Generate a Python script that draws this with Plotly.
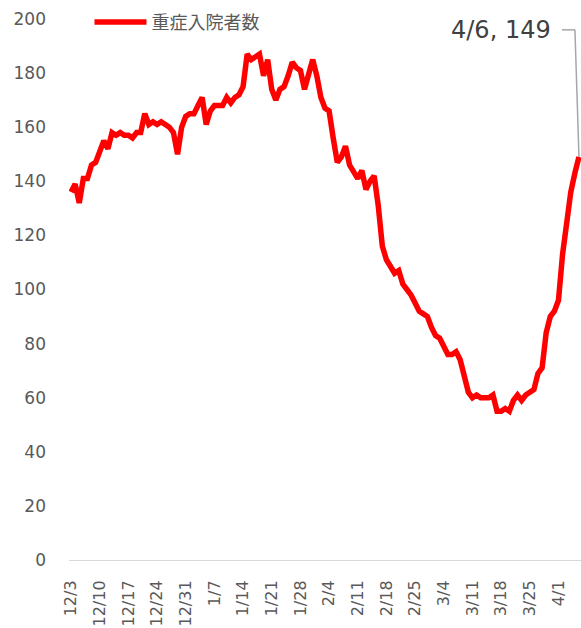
import plotly.graph_objects as go
import pandas as pd

# Categories: daily dates 12/3 .. 4/6
dates = pd.date_range("2020-12-03", "2021-04-06", freq="D")
categories = [f"{d.month}/{d.day}" for d in dates]

series_name = "重症入院者数"
severe = [
    136, 139, 132, 141, 141, 146, 147, 151, 155, 152,   # 12/3 - 12/12
    158, 157, 158, 157, 157, 156, 158, 158, 165, 161,   # 12/13 - 12/22
    162, 161, 162, 161, 160, 158, 150, 160, 164, 165,   # 12/23 - 1/1
    165, 168, 171, 161, 166, 168, 168, 168, 171, 169,   # 1/2 - 1/11
    171, 172, 175, 187, 185, 186, 187, 179, 185, 174,   # 1/12 - 1/21
    170, 174, 175, 179, 184, 182, 181, 174, 180, 185,   # 1/22 - 1/31
    179, 171, 167, 166, 156, 147, 149, 153, 146, 143,   # 2/1 - 2/10
    141, 144, 137, 140, 142, 131, 116, 111, 108, 106,   # 2/11 - 2/20
    107, 102, 100, 98, 95, 92, 91, 90, 86, 83,          # 2/21 - 3/2
    82, 79, 76, 76, 77, 74, 68, 62, 60, 61,             # 3/3 - 3/12
    60, 60, 60, 61, 55, 55, 56, 55, 59, 61,             # 3/13 - 3/22
    59, 61, 62, 63, 69, 71, 84, 90, 92, 96,             # 3/23 - 4/1
    113, 125, 136, 143, 149,                            # 4/2 - 4/6
]
tick_labels = categories[::7]
y_ticks = list(range(0, 201, 20))

TEXT = "#595959"
NUM_FONT = "DejaVu Sans"
CJK_FONT = "Noto Sans CJK JP"

fig = go.Figure()
fig.add_trace(go.Scatter(
    x=categories, y=severe, mode="lines", name=series_name,
    line=dict(color="#FF0000", width=5.5), showlegend=True,
))

last_x = len(categories) - 1
label_y = 196

fig.update_layout(
    width=581, height=628,
    margin=dict(l=69, r=0, t=19, b=68, autoexpand=False),
    paper_bgcolor="white", plot_bgcolor="white",
    showlegend=True,
    legend=dict(x=0.04, y=1.028, xanchor="left", yanchor="top",
                font=dict(family=CJK_FONT, size=18, color=TEXT),
                itemwidth=52, bgcolor="rgba(0,0,0,0)"),
    xaxis=dict(type="category", range=[-0.5, len(categories) - 0.5],
               tickmode="array", tickvals=tick_labels, ticktext=tick_labels,
               tickangle=-90, showgrid=False, zeroline=False,
               showline=True, linecolor="#d9d9d9", linewidth=1,
               ticks="", ticklabelstandoff=13, automargin=False,
               tickfont=dict(family=NUM_FONT, size=16, color=TEXT)),
    yaxis=dict(range=[0, 200], tickvals=y_ticks, showgrid=False,
               zeroline=False, showline=False, ticks="",
               ticklabelstandoff=22, automargin=False,
               tickfont=dict(family=NUM_FONT, size=17, color=TEXT)),
    annotations=[dict(
        text=f"{categories[-1]}, {severe[-1]}",
        x=last_x, xref="x", xanchor="right", xshift=-26,
        y=label_y, yref="y", yanchor="middle",
        showarrow=False,
        font=dict(family=NUM_FONT, size=24, color="#404040"),
    )],
    shapes=[
        dict(type="line", xref="x", yref="y", xsizemode="pixel", xanchor=last_x,
             x0=0, x1=-4, y0=severe[-1], y1=label_y,
             line=dict(color="#a6a6a6", width=1.5)),
        dict(type="line", xref="x", yref="y", xsizemode="pixel", xanchor=last_x,
             x0=-4, x1=-17, y0=label_y, y1=label_y,
             line=dict(color="#a6a6a6", width=1.5)),
    ],
)

fig.write_html(
    "out.html",
    config={"responsive": False, "displayModeBar": False},
    post_script="document.body.style.margin='0';document.body.style.overflow='hidden';",
)
